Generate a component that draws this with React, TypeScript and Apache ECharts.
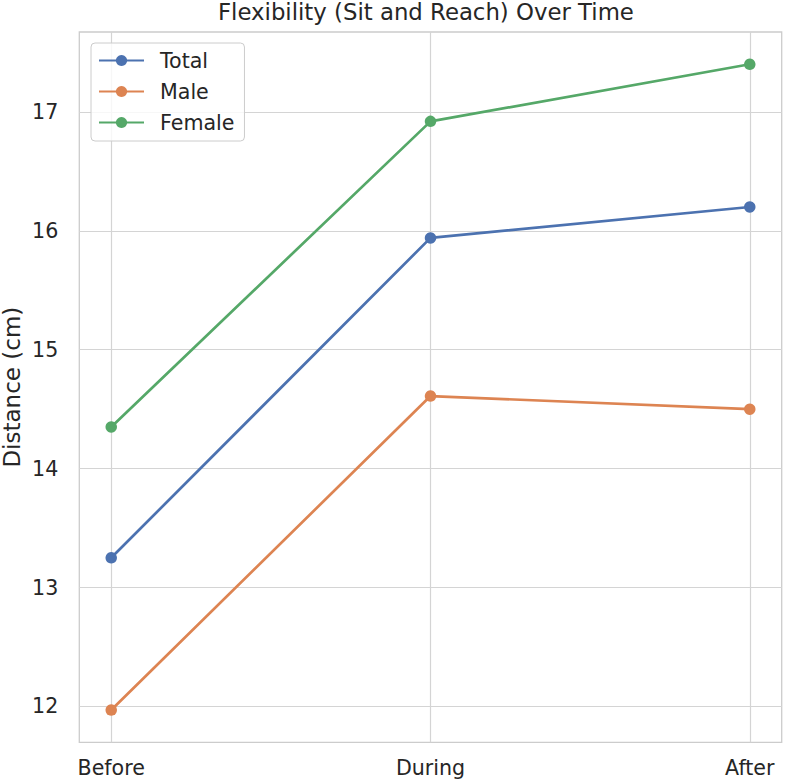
import React, { useEffect, useRef } from "react";
import * as echarts from "echarts";

const categories = ["Before", "During", "After"];
const totalValues = [13.25, 15.94, 16.2];
const maleValues = [11.97, 14.61, 14.5];
const femaleValues = [14.35, 16.92, 17.4];
const yTicks = [12, 13, 14, 15, 16, 17];
const seriesNames = ["Total", "Male", "Female"];
const seriesColors = ["#4c72b0", "#dd8452", "#55a868"];

const FONT = "DejaVu Sans";
const TEXT = "#262626";
const GRIDC = "#d4d4d4";

export default function App() {
  const ref = useRef<HTMLDivElement>(null);
  useEffect(() => {
    if (!ref.current) return;
    const chart = echarts.init(ref.current, null, { renderer: "svg" });
    const all = [...totalValues, ...maleValues, ...femaleValues];
    const lo = Math.min(...all);
    const hi = Math.max(...all);
    const pad = (hi - lo) * 0.05;
    const xIdx = categories.map((_, i) => i);
    const valuesList = [totalValues, maleValues, femaleValues];
    chart.setOption({
      animation: false,
      backgroundColor: "#ffffff",
      title: {
        text: "Flexibility (Sit and Reach) Over Time",
        left: 218,
        top: 0,
        padding: 0,
        textStyle: { fontFamily: FONT, fontSize: 22.8, fontWeight: "normal", color: TEXT },
      },
      legend: {
        orient: "vertical",
        left: 91,
        top: 43,
        padding: [7, 10, 8, 7],
        itemWidth: 45,
        itemHeight: 14,
        itemGap: 10,
        backgroundColor: "rgba(255,255,255,0.8)",
        borderColor: "#cccccc",
        borderWidth: 1,
        borderRadius: 4,
        data: seriesNames,
        textStyle: { fontFamily: FONT, fontSize: 20.6, color: TEXT, padding: [0, 0, 0, 11] },
      },
      grid: {
        left: 79.3,
        right: 4.3,
        top: 32,
        bottom: 40.7,
        show: true,
        borderColor: "#cccccc",
        borderWidth: 1.3,
        containLabel: false,
        outerBoundsMode: "none",
      },
      xAxis: {
        type: "value",
        min: -0.1,
        max: 2.1,
        axisLine: { show: false },
        axisTick: { show: false, customValues: xIdx },
        axisLabel: {
          customValues: xIdx,
          formatter: (v: number) => categories[Math.round(v)] ?? "",
          fontFamily: FONT,
          fontSize: 20.6,
          color: TEXT,
          margin: 15,
        },
        splitLine: { show: true, lineStyle: { color: GRIDC, width: 1.2 } },
      },
      yAxis: {
        type: "value",
        min: lo - pad,
        max: hi + pad,
        name: "Distance (cm)",
        nameLocation: "middle",
        nameGap: 56,
        nameMoveOverlap: false,
        nameTextStyle: { fontFamily: FONT, fontSize: 23, color: TEXT },
        axisLine: { show: false },
        axisTick: { show: false, customValues: yTicks },
        axisLabel: {
          customValues: yTicks,
          fontFamily: FONT,
          fontSize: 20.6,
          color: TEXT,
          margin: 21,
        },
        splitLine: { show: true, lineStyle: { color: GRIDC, width: 1.2 } },
      },
      series: seriesNames.map((name, s) => ({
        name,
        type: "line",
        data: valuesList[s].map((v, i) => [xIdx[i], v]),
        symbol: "circle",
        symbolSize: 11.5,
        lineStyle: { width: 2.7, color: seriesColors[s] },
        itemStyle: { color: seriesColors[s] },
        color: seriesColors[s],
      })),
    });
    return () => chart.dispose();
  }, []);
  return (
    <div
      ref={ref}
      style={{ position: "fixed", left: 0, top: 0, width: 786, height: 783 }}
    />
  );
}
